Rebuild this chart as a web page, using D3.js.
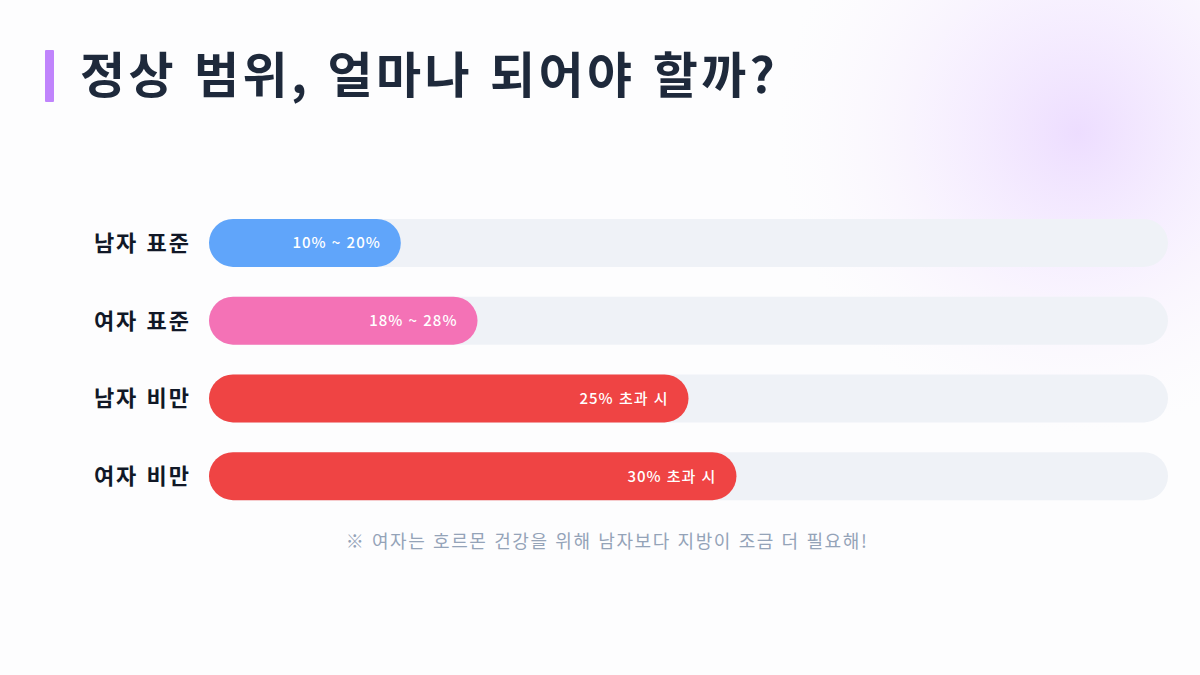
<!DOCTYPE html>
<html lang="ko">
<head>
    <meta charset="UTF-8">
    <title>정상 범위</title>
    <script src="https://d3js.org/d3.v7.min.js"></script>
    <style>
        body {
            margin: 0;
            padding: 0;
            background-color: #ffffff;
            font-family: 'Noto Sans CJK KR', 'Noto Sans', sans-serif;
        }
        #chart {
            display: block;
        }
    </style>
</head>
<body>
    <svg id="chart" width="1200" height="675"></svg>

    <script>
        // data
        const categories = ["남자 표준", "여자 표준", "남자 비만", "여자 비만"];
        const values = [20, 28, 50, 55];
        const barLabels = ["10% ~ 20%", "18% ~ 28%", "25% 초과 시", "30% 초과 시"];
        const barColors = ["#60a5fa", "#f472b6", "#ef4444", "#ef4444"];
        const title = "정상 범위, 얼마나 되어야 할까?";
        const note = "※ 여자는 호르몬 건강을 위해 남자보다 지방이 조금 더 필요해!";

        const width = 1200, height = 675;
        const left = 209, right = 1168;
        const barH = 48;

        const svg = d3.select("#chart");

        // soft purple glow in the top right corner
        const defs = svg.append("defs");
        const glow = defs.append("radialGradient").attr("id", "glow");
        glow.append("stop").attr("offset", "0%").attr("stop-color", "#e9d5ff").attr("stop-opacity", 0.8);
        glow.append("stop").attr("offset", "45%").attr("stop-color", "#f3e8ff").attr("stop-opacity", 0.6);
        glow.append("stop").attr("offset", "100%").attr("stop-color", "#faf5ff").attr("stop-opacity", 0);

        svg.append("rect").attr("width", width).attr("height", height).attr("fill", "#fdfdfe");
        svg.append("circle")
           .attr("cx", 1078).attr("cy", 133).attr("r", 300)
           .attr("fill", "url(#glow)");

        // title
        svg.append("rect")
           .attr("x", 45).attr("y", 50).attr("width", 9).attr("height", 52)
           .attr("rx", 1)
           .attr("fill", "#c084fc");
        svg.append("text")
           .attr("x", 80).attr("y", 93)
           .attr("font-size", 49)
           .attr("font-weight", 700)
           .attr("letter-spacing", 3.4)
           .attr("fill", "#1e293b")
           .text(title);

        const x = d3.scaleLinear().domain([0, 100]).range([left, right]);
        const y = d3.scaleBand().domain(categories).range([204, 515]).paddingInner(0.38).paddingOuter(0.19);

        const rows = svg.selectAll(".row")
                        .data(categories)
                        .enter().append("g")
                        .attr("class", "row")
                        .attr("transform", d => "translate(0," + (y(d) + y.bandwidth() / 2 - barH / 2) + ")");

        // track
        rows.append("rect")
            .attr("x", x(0))
            .attr("width", x(100) - x(0))
            .attr("height", barH)
            .attr("rx", barH / 2)
            .attr("fill", "#eff2f7");

        // bar
        rows.append("rect")
            .attr("x", x(0))
            .attr("width", (d, i) => x(values[i]) - x(0))
            .attr("height", barH)
            .attr("rx", barH / 2)
            .attr("fill", (d, i) => barColors[i]);

        // value label inside bar
        rows.append("text")
            .attr("x", (d, i) => x(values[i]) - 20)
            .attr("y", barH / 2)
            .attr("dy", "0.36em")
            .attr("text-anchor", "end")
            .attr("font-size", 15)
            .attr("font-weight", 500)
            .attr("letter-spacing", 1)
            .attr("fill", "#ffffff")
            .text((d, i) => barLabels[i]);

        // category label
        rows.append("text")
            .attr("x", 191)
            .attr("y", barH / 2)
            .attr("dy", "0.36em")
            .attr("text-anchor", "end")
            .attr("font-size", 22)
            .attr("font-weight", 700)
            .attr("letter-spacing", 2)
            .attr("fill", "#111827")
            .text(d => d);

        // footnote
        svg.append("text")
           .attr("x", 607).attr("y", 548)
           .attr("text-anchor", "middle")
           .attr("font-size", 18)
           .attr("letter-spacing", 1.6)
           .attr("fill", "#94a3b8")
           .text(note);
    </script>
</body>
</html>
